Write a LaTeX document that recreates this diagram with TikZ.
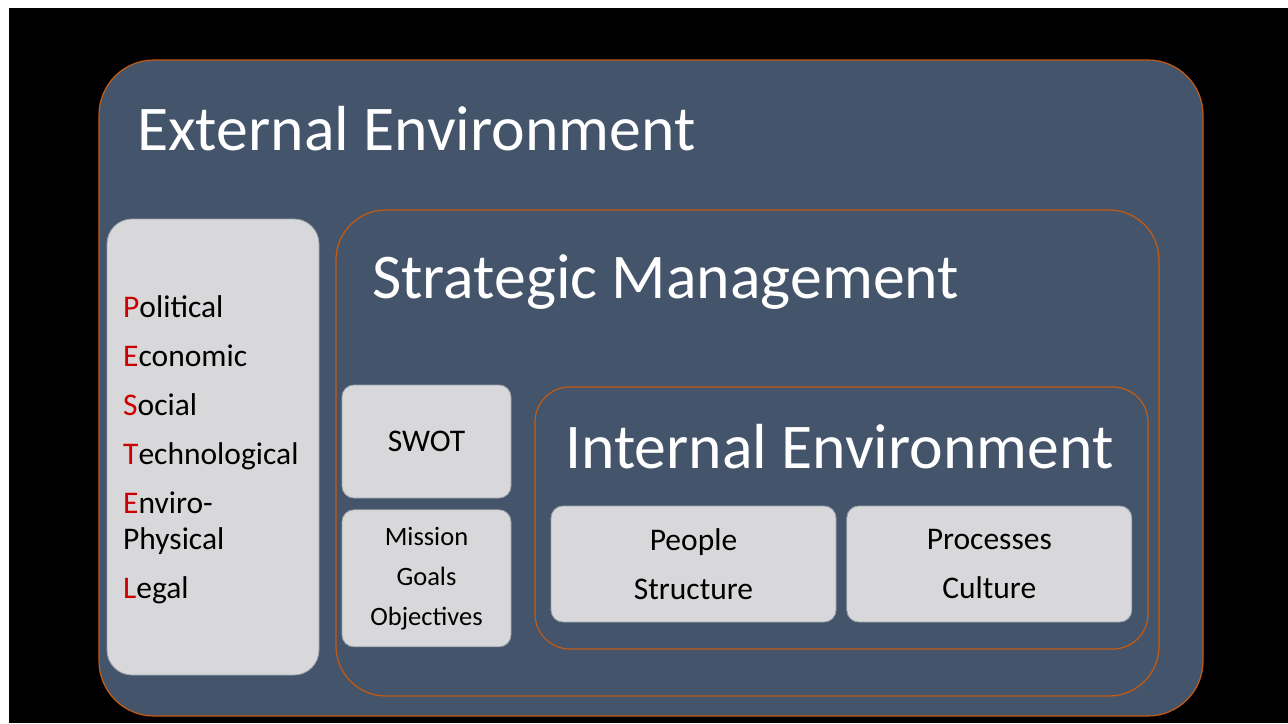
\documentclass[tikz,border=0pt]{standalone}
\usepackage{fontspec}
\setmainfont{Carlito}
\usetikzlibrary{positioning}
\definecolor{slate}{HTML}{44546A}
\definecolor{rimorange}{HTML}{C55A11}
\definecolor{paleface}{HTML}{D8D8DA}
\definecolor{paleedge}{HTML}{9CA3AD}
\definecolor{initial}{HTML}{CC0000}
\newcommand{\ini}[1]{\textcolor{initial}{#1}}

\begin{document}
\begin{tikzpicture}[x=1pt,y=-1pt,node distance=10pt,
	frame/.style={draw=rimorange,line width=1.2pt,inner sep=0pt},
	panel/.style={draw=paleedge,line width=0.8pt,fill=paleface,inner sep=0pt,rounded corners=12pt,align=center},
	heading/.style={text=white,inner sep=0pt,anchor=base west,font=\fontsize{63.7}{75}\selectfont},
	small/.style={font=\fontsize{31.5}{49}\selectfont}]
	\useasboundingbox (0,0) rectangle (1288,723);
	\fill[white] (0,0) rectangle (1288,723);
	\fill[black] (9,8) rectangle (1288,723);
	% nested environments
	\node (external) [frame,fill=slate,rounded corners=55pt,minimum width=1104pt,minimum height=656pt] at (651,388) {};
	\node (strategic) [frame,rounded corners=50pt,minimum width=823pt,minimum height=486pt] at (747.5,453) {};
	\node (internal) [frame,rounded corners=35pt,minimum width=613pt,minimum height=262pt] at (841.5,518) {};
	\node (externaltitle) [heading] at (137,150) {External Environment};
	\node (strategictitle) [heading] at (372,298) {Strategic Management};
	\node (internaltitle) [heading] at (565,468) {Internal Environment};
	% PESTEL list
	\node (pestel) [panel,rounded corners=25pt,minimum width=212pt,minimum height=456pt] at (213,447) {};
	\node (pestellist) [anchor=north west,inner sep=0pt,align=left,font=\fontsize{31.5}{36}\selectfont] at (123,295.5)
		{\ini{P}olitical\\[13pt] \ini{E}conomic\\[13pt] \ini{S}ocial\\[13pt] \ini{T}echnological\\[13pt] \ini{E}nviro-\\ Physical\\[13pt] \ini{L}egal};
	% strategy boxes
	\node (swot) [panel,small,minimum width=169pt,minimum height=113pt] at (426.5,441.5) {SWOT};
	\node (mission) [panel,below=11pt of swot,minimum width=169pt,minimum height=137pt,font=\fontsize{26.5}{40}\selectfont] {Mission\\ Goals\\ Objectives};
	\node (people) [panel,small,minimum width=285pt,minimum height=116pt] at (693.5,564) {People\\ Structure};
	\node (processes) [panel,small,right=10pt of people,minimum width=285pt,minimum height=116pt] {Processes\\ Culture};
\end{tikzpicture}
\end{document}
